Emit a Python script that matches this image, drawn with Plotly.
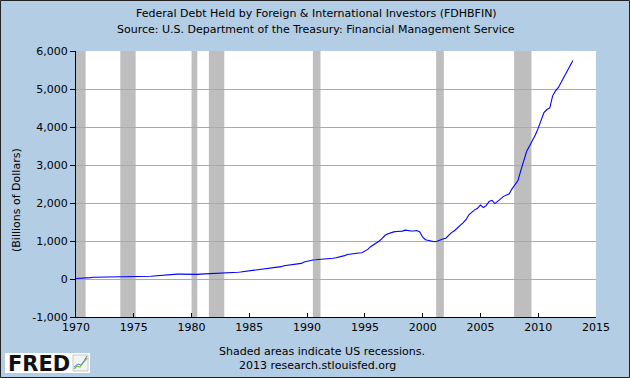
import pandas as pd
import plotly.graph_objects as go

# ---------------- data ----------------
years = list(range(1970, 2014))
# quarterly values (billions of dollars), Q1..Q4 per year
q_values = {
    1970: [14, 15, 17, 20], 1971: [27, 36, 45, 46], 1972: [49, 50, 52, 55],
    1973: [58, 57, 56, 55], 1974: [57, 57, 58, 59], 1975: [66, 68, 52, 64],
    1976: [67, 70, 73, 78], 1977: [85, 95, 105, 112], 1978: [117, 121, 124, 128],
    1979: [127, 124, 123, 124], 1980: [125, 110, 122, 127], 1981: [130, 133, 135, 137],
    1982: [140, 142, 147, 152], 1983: [158, 162, 167, 172], 1984: [178, 186, 195, 205],
    1985: [218, 225, 232, 240], 1986: [245, 262, 270, 278], 1987: [285, 295, 305, 325],
    1988: [350, 360, 368, 375], 1989: [380, 395, 410, 450], 1990: [470, 485, 500, 505],
    1991: [510, 515, 522, 528], 1992: [534, 548, 560, 575], 1993: [590, 615, 645, 660],
    1994: [665, 675, 685, 690], 1995: [728, 780, 850, 900], 1996: [930, 1000, 1070, 1150],
    1997: [1190, 1225, 1240, 1250], 1998: [1250, 1260, 1285, 1270], 1999: [1265, 1265, 1275, 1240],
    2000: [1100, 1035, 1015, 1005], 2001: [980, 995, 1030, 1050], 2002: [1075, 1160, 1220, 1270],
    2003: [1330, 1410, 1475, 1560], 2004: [1690, 1760, 1820, 1860], 2005: [1945, 1880, 1930, 2040],
    2006: [2070, 1985, 2060, 2110], 2007: [2175, 2200, 2240, 2380], 2008: [2480, 2590, 2860, 3100],
    2009: [3360, 3500, 3640, 3790], 2010: [3970, 4200, 4380, 4460], 2011: [4500, 4820, 4950, 5040],
    2012: [5180, 5350, 5480, 5630], 2013: [5750],
}
dates = []
values = []
for y in years:
    for qi, v in enumerate(q_values[y]):
        dates.append(f"{y}-{1 + 3 * qi:02d}-01")
        values.append(v)

recession_starts = ["1969-12-01", "1973-11-01", "1980-01-01", "1981-07-01",
                    "1990-07-01", "2001-03-01", "2007-12-01"]
recession_ends = ["1970-11-01", "1975-03-01", "1980-07-01", "1982-11-01",
                  "1991-03-01", "2001-11-01", "2009-06-01"]

x_tick_years = list(range(1970, 2016, 5))
x_tick_vals = [f"{y}-01-01" for y in x_tick_years]
x_tick_text = [str(y) for y in x_tick_years]
y_tick_vals = [-1000, 0, 1000, 2000, 3000, 4000, 5000, 6000]
y_tick_text = ["-1,000", "0", "1,000", "2,000", "3,000", "4,000", "5,000", "6,000"]

title_1 = "Federal Debt Held by Foreign &amp; International Investors (FDHBFIN)"
title_2 = "Source: U.S. Department of the Treasury: Financial Management Service"
y_title = "(Billions of Dollars)"
note_1 = "Shaded areas indicate US recessions."
note_2 = "2013 research.stlouisfed.org"

# ---------------- layout geometry ----------------
W, H = 630, 378
L, R, T, B = 76, 596, 51, 317
PW, PH = R - L, B - T


def px(xp):
    return (xp - L) / PW


def py(yp):
    return (B - yp) / PH


FONT = "DejaVu Sans"
BG = "#B3CDE5"

fig = go.Figure()
fig.add_trace(go.Scatter(x=dates, y=values, mode="lines",
                         line=dict(color="#0000FF", width=1.1),
                         hoverinfo="x+y", showlegend=False))

shapes = []
for s, e in zip(recession_starts, recession_ends):
    s2 = max(s, "1970-01-01")
    shapes.append(dict(type="rect", xref="x", yref="paper", x0=s2, x1=e, y0=0, y1=1,
                       fillcolor="#BEBEBE", line=dict(width=0), layer="between"))

# FRED logo box
shapes.append(dict(type="rect", xref="paper", yref="paper",
                   x0=px(5), x1=px(90), y0=py(373), y1=py(353),
                   fillcolor="white", line=dict(width=0), layer="above"))
# small chart icon
shapes.append(dict(type="rect", xref="paper", yref="paper",
                   x0=px(73), x1=px(88), y0=py(371), y1=py(355),
                   fillcolor="#F2F4F2", line=dict(color="#C8C8C8", width=1), layer="above"))


def path_from(pts):
    return "M " + " L ".join(f"{px(a):.5f},{py(b):.5f}" for a, b in pts)


shapes.append(dict(type="path", xref="paper", yref="paper",
                   path=path_from([(74, 369), (77, 366), (80, 367), (83, 363), (87, 358)]),
                   line=dict(color="#7FB24A", width=1.2), layer="above"))
shapes.append(dict(type="path", xref="paper", yref="paper",
                   path=path_from([(74, 367), (78, 364), (81, 365), (84, 361), (87, 356)]),
                   line=dict(color="#5A86C8", width=1.0), layer="above"))
# outer border
shapes.append(dict(type="rect", xref="paper", yref="paper",
                   x0=px(0.5), x1=px(629.5), y0=py(377.5), y1=py(0.5),
                   line=dict(color="#222222", width=1), fillcolor="rgba(0,0,0,0)", layer="above"))

annotations = [
    dict(text=title_1, x=px(316), y=py(14), xref="paper", yref="paper", showarrow=False,
         xanchor="center", yanchor="middle", font=dict(family=FONT, size=11, color="#000")),
    dict(text=title_2, x=px(316), y=py(30), xref="paper", yref="paper", showarrow=False,
         xanchor="center", yanchor="middle", font=dict(family=FONT, size=11, color="#000")),
    dict(text=y_title, x=px(16), y=py(200), xref="paper", yref="paper", showarrow=False,
         textangle=-90, xanchor="center", yanchor="middle",
         font=dict(family=FONT, size=11, color="#000")),
    dict(text=note_1, x=px(322), y=py(351), xref="paper", yref="paper", showarrow=False,
         xanchor="center", yanchor="middle", font=dict(family=FONT, size=11, color="#000")),
    dict(text=note_2, x=px(317), y=py(365), xref="paper", yref="paper", showarrow=False,
         xanchor="center", yanchor="middle", font=dict(family=FONT, size=11, color="#000")),
    dict(text="<b>FRED</b>", x=px(6), y=py(363.5), xref="paper", yref="paper", showarrow=False,
         xanchor="left", yanchor="middle",
         font=dict(family="DejaVu Sans", size=21, color="#111")),
]

fig.update_layout(
    width=W, height=H,
    margin=dict(l=L, r=W - R, t=T, b=H - B, pad=0),
    paper_bgcolor=BG, plot_bgcolor="white",
    font=dict(family=FONT, size=11, color="#000"),
    shapes=shapes, annotations=annotations,
    showlegend=False,
    xaxis=dict(type="date", range=["1970-01-01", "2015-01-01"],
               tickvals=x_tick_vals, ticktext=x_tick_text,
               ticks="inside", ticklen=4, tickcolor="#000", tickwidth=1,
               showline=True, linecolor="#000", linewidth=1,
               showgrid=False, zeroline=False,
               tickfont=dict(family=FONT, size=11, color="#000")),
    yaxis=dict(range=[-1000, 6000], tickvals=y_tick_vals, ticktext=y_tick_text,
               ticks="outside", ticklen=5, tickcolor="#000", tickwidth=1,
               showline=True, linecolor="#000", linewidth=1,
               showgrid=True, gridcolor="#AAAAAA", gridwidth=1, zeroline=False,
               tickfont=dict(family=FONT, size=11, color="#000")),
)

fig.write_html("out.html",
               config={"displayModeBar": False},
               post_script="document.body.style.margin='0';document.body.style.overflow='hidden';")
